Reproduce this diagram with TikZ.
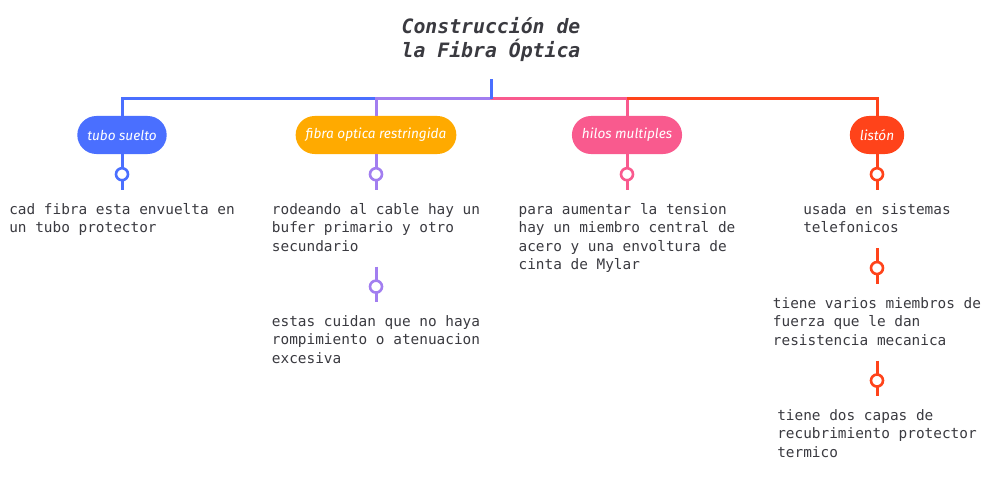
\documentclass[tikz,border=0pt]{standalone}
\usepackage{fontspec}
\setmainfont{DejaVu Sans Mono}
\newfontfamily\pillfont{Fira Sans}
\usetikzlibrary{calc, positioning}

\definecolor{azul}{HTML}{4A6FFF}
\definecolor{naranja}{HTML}{FFAA00}
\definecolor{rosa}{HTML}{F95A8E}
\definecolor{rojo}{HTML}{FF431A}
\definecolor{morado}{HTML}{A27EF0}
\definecolor{tinta}{HTML}{3A3A40}

\tikzstyle{titulo} = [align=center, inner sep=0pt, text=tinta, font=\bfseries\itshape\fontsize{19.8}{24}\selectfont]
\tikzstyle{pastilla} = [text=white, rounded corners=19pt, minimum height=38pt, inner xsep=10pt, font=\pillfont\itshape\fontsize{13.6}{15}\selectfont]
\tikzstyle{texto} = [align=left, anchor=north, inner sep=0pt, text=tinta, font=\fontsize{14.4}{18.5}\selectfont]
\tikzstyle{linea} = [line width=3pt]
\tikzstyle{bolita} = [circle, draw, line width=2.6pt, fill=white, minimum size=12pt, inner sep=0pt]

\begin{document}
\begin{tikzpicture}[x=1pt, y=-1pt]
    \useasboundingbox (0,0) rectangle (1006,484);

    % el titulo
    \node (titulo) [titulo] at (491,40) {Construcción de \\ la Fibra Óptica};
    \coordinate (tronco) at (491,99);

    % las categorias
    \node (tubo) [pastilla, fill=azul] at (122,135) {tubo suelto};
    \node (fibra) [pastilla, fill=naranja] at (376,135) {fibra optica restringida};
    \node (hilos) [pastilla, fill=rosa] at (627,135) {hilos multiples};
    \node (liston) [pastilla, fill=rojo] at (877,135) {listón};

    % los textos
    \node (tuboA) [texto] at (122,203) {cad fibra esta envuelta en \\ un tubo protector};
    \node (fibraA) [texto] at (376,203) {rodeando al cable hay un \\ bufer primario y otro \\ secundario};
    \node (fibraB) [texto] at (376,315) {estas cuidan que no haya \\ rompimiento o atenuacion \\ excesiva};
    \node (hilosA) [texto] at (627,203) {para aumentar la tension \\ hay un miembro central de \\ acero y una envoltura de \\ cinta de Mylar};
    \node (listonA) [texto] at (877,203) {usada en sistemas \\ telefonicos};
    \node (listonB) [texto] at (877,297) {tiene varios miembros de \\ fuerza que le dan \\ resistencia mecanica};
    \node (listonC) [texto] at (877,409) {tiene dos capas de \\ recubrimiento protector \\ termico};

    % barra de arriba
    \draw [linea, azul] (tubo.north) |- (fibra.north |- tronco);
    \draw [linea, morado] (fibra.north) |- (tronco);
    \draw [linea, rosa] (hilos.north) |- (tronco);
    \draw [linea, rojo] (liston.north) |- (hilos.north |- tronco);
    \draw [linea, azul, shorten >=17pt] (tronco) -- (titulo.south);

    % de categoria a texto
    \foreach \a/\b/\c in {tubo/tuboA/azul, fibra/fibraA/morado, hilos/hilosA/rosa, liston/listonA/rojo}{
        \draw [linea, \c, shorten >=13pt] (\a.south) -- (\b.north);
        \node (b\a) [bolita, draw=\c] at ($(\a.south)+(0,20)$) {};
    }

    % de texto a texto
    \foreach \a/\b/\c in {fibraA/fibraB/morado, listonA/listonB/rojo, listonB/listonC/rojo}{
        \draw [linea, \c, shorten <=15pt, shorten >=13pt] (\a.south) -- (\b.north);
        \node (b\a) [bolita, draw=\c] at ($(\a.south)+(0,35)$) {};
    }
\end{tikzpicture}
\end{document}
